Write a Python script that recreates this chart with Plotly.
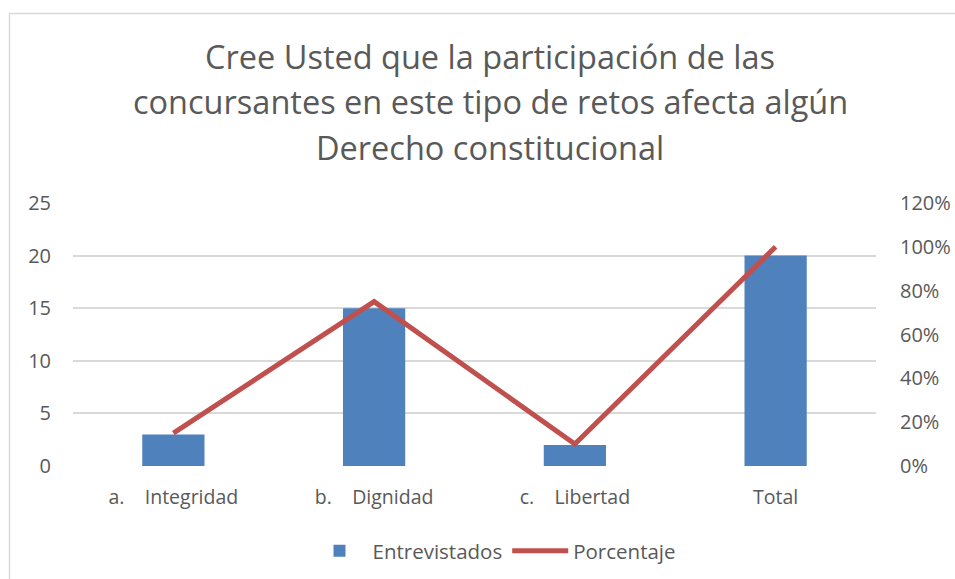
import plotly.graph_objects as go

categories = ["a.\u00a0\u00a0\u00a0\u00a0Integridad", "b.\u00a0\u00a0\u00a0\u00a0Dignidad", "c.\u00a0\u00a0\u00a0\u00a0Libertad", "Total"]
entrevistados = [3, 15, 2, 20]
porcentaje = [0.15, 0.75, 0.10, 1.00]
title_lines = ["Cree Usted que la participación de las",
               "concursantes en este tipo de retos afecta algún",
               "Derecho constitucional"]

FONT = "Open Sans, Noto Sans, sans-serif"
GREY = "#595959"

fig = go.Figure()
fig.add_trace(go.Bar(x=categories, y=entrevistados, name="Entrevistados",
                     marker=dict(color="#4F81BD", line=dict(width=0)), yaxis="y"))
fig.add_trace(go.Scatter(x=categories, y=porcentaje, name="Porcentaje", mode="lines",
                         line=dict(color="#C0504D", width=5), yaxis="y2"))

W, H = 955, 579
L, R, T, B = 73, 876, 203, 466
plot_h = B - T
plot_w = R - L

annotations = []
for t, ypx in zip(title_lines, [57, 102, 147]):
    annotations.append(dict(text=t, xref="paper", yref="paper", x=(490 - L) / plot_w,
                            y=(B - ypx) / plot_h, xanchor="center", yanchor="middle",
                            showarrow=False,
                            font=dict(family=FONT, size=32.5, color=GREY)))

fig.update_layout(
    width=W, height=H,
    margin=dict(l=L, r=W - R, t=T, b=H - B, autoexpand=False),
    paper_bgcolor="white", plot_bgcolor="white",
    font=dict(family=FONT, size=19, color=GREY),
    bargap=0.69,
    showlegend=True,
    legend=dict(orientation="h", x=(494 - L) / plot_w, xanchor="center", y=(B - 551) / plot_h,
                yanchor="middle", itemwidth=56,
                font=dict(family=FONT, size=20.5, color=GREY)),
    xaxis=dict(showgrid=False, showline=False, ticks="", tickfont=dict(size=19.5),
               ticklabelstandoff=17, automargin=False),
    yaxis=dict(range=[0, 25], dtick=5, showgrid=True, gridcolor="#d9d9d9", gridwidth=1.5,
               zeroline=False, showline=False, ticks="", tickfont=dict(size=20),
               ticklabelstandoff=21, automargin=False),
    yaxis2=dict(range=[0, 1.2], dtick=0.2, tickformat=".0%", overlaying="y", side="right",
                showgrid=False, zeroline=False, showline=False, ticks="",
                tickfont=dict(size=20), ticklabelstandoff=23, automargin=False),
    annotations=annotations,
    shapes=[dict(type="rect", xref="paper", yref="paper",
                 x0=(9.5 - L) / plot_w, x1=(970 - L) / plot_w,
                 y0=(B - 600) / plot_h, y1=(B - 13.5) / plot_h,
                 line=dict(color="#d9d9d9", width=1.5), layer="below")],
)
fig.write_html("out.html", config={"displayModeBar": False},
               post_script="document.body.style.margin='0';document.body.style.overflow='hidden';")
